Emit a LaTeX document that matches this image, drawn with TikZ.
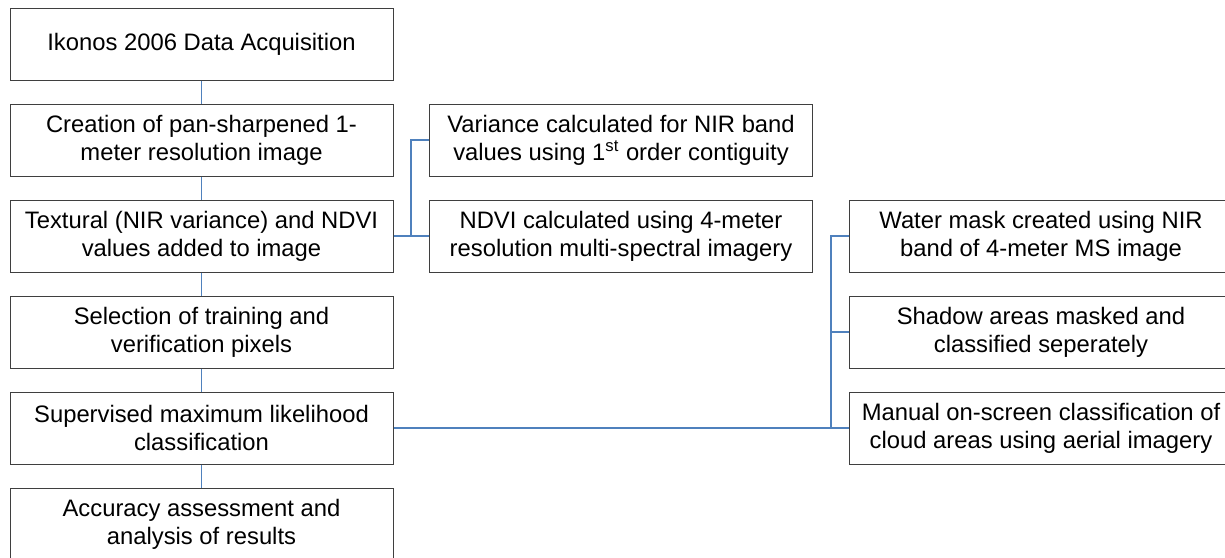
\documentclass[tikz,border=0pt]{standalone}
\usepackage{fontspec}
\setmainfont{Liberation Sans}
\definecolor{linkblue}{HTML}{4F81BD}
\definecolor{boxgray}{HTML}{3F3F3F}
\tikzset{
  procbox/.style={rectangle,draw=boxgray,line width=0.5pt,fill=white,
    minimum height=36pt,minimum width=191.5pt,inner sep=0pt,
    align=center,font=\fontsize{11.9}{14}\selectfont},
  link/.style={draw=linkblue,line width=0.6pt}
}
\begin{document}
\begin{tikzpicture}[x=0.5pt,y=-0.5pt]
    \useasboundingbox (0,0) rectangle (1225,557);
    \clip (0,0) rectangle (1225,557);
    % main sequence
    \node[procbox] (acquisition) at (201.5,44) {Ikonos 2006 Data Acquisition};
    \node[procbox] (pansharpen) at (201.5,140) {Creation of pan-sharpened 1-\\meter resolution image};
    \node[procbox] (textural) at (201.5,236) {Textural (NIR variance) and NDVI\\values added to image};
    \node[procbox] (selection) at (201.5,332) {Selection of training and\\verification pixels};
    \node[procbox] (supervised) at (201.5,428) {Supervised maximum likelihood\\classification};
    \node[procbox] (accuracy) at (201.5,524) {Accuracy assessment and\\analysis of results};
    % texture inputs
    \node[procbox] (variance) at (621,140) {Variance calculated for NIR band\\values using 1\textsuperscript{st} order contiguity};
    \node[procbox] (ndvi) at (621,236) {NDVI calculated using 4-meter\\resolution multi-spectral imagery};
    % classification steps
    \node[procbox] (watermask) at (1041,236) {Water mask created using NIR\\band of 4-meter MS image};
    \node[procbox] (shadow) at (1041,332) {Shadow areas masked and\\classified seperately};
    \node[procbox] (cloud) at (1041,428) {Manual on-screen classification of\\cloud areas using aerial imagery};
    \coordinate (texjoint) at (411,236);
    \coordinate (classjoint) at (831,428);
    \draw[link] (acquisition) -- (pansharpen);
    \draw[link] (pansharpen) -- (textural);
    \draw[link] (textural) -- (selection);
    \draw[link] (selection) -- (supervised);
    \draw[link] (supervised) -- (accuracy);
    \draw[link] (textural.east) -- (texjoint) -- (ndvi.west);
    \draw[link] (texjoint) |- (variance.west);
    \draw[link] (supervised.east) -- (classjoint) -- (cloud.west);
    \draw[link] (classjoint) |- (shadow.west);
    \draw[link] (classjoint) |- (watermask.west);
\end{tikzpicture}
\end{document}
